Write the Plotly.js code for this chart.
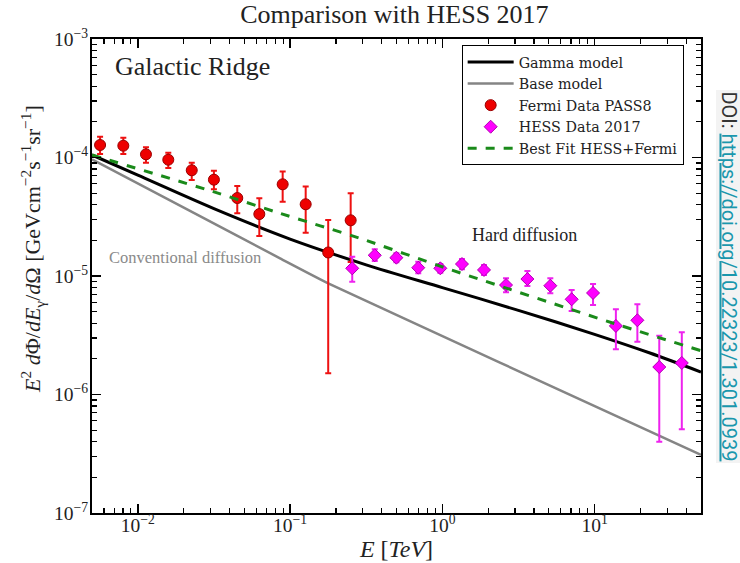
<!DOCTYPE html>
<html>
<head>
<meta charset="utf-8">
<script src="https://cdn.plot.ly/plotly-3.0.1.min.js"></script>
<style>html,body{margin:0;padding:0;background:#fff;}#chart{width:740px;height:563px;}</style>
</head>
<body>
<div id="chart"></div>
<script>
// Model curves (E in TeV, E^2 dPhi/dE/dOmega in GeV cm^-2 s^-1 sr^-1)
const gammaE = [0.005, 0.01, 0.0316, 0.1, 0.316, 1, 3.16, 10, 23.1, 50];
const gammaY = [1.05e-4, 7.09e-5, 3.70e-5, 2.05e-5, 1.243e-5, 7.98e-6, 5.13e-6, 3.22e-6, 2.24e-6, 1.548e-6];

const baseE = [0.005, 0.02314, 0.0859, 0.178, 2.39, 50];
const baseY = [9.66e-5, 3.42e-5, 1.41e-5, 8.68e-6, 1.86e-6, 3.09e-7];

const fitE = [0.005, 0.0313, 0.0859, 0.288, 1.068, 13.3, 50];
const fitY = [1.05e-4, 5.15e-5, 3.38e-5, 2.08e-5, 1.16e-5, 3.99e-6, 2.34e-6];

// Fermi PASS8 data
const fermiE = [0.00565, 0.00803, 0.01131, 0.01585, 0.0226, 0.0316, 0.045, 0.0628, 0.0894, 0.1266, 0.178, 0.25];
const fermiY = [1.275e-4, 1.258e-4, 1.064e-4, 9.58e-5, 7.80e-5, 6.50e-5, 4.55e-5, 3.33e-5, 5.94e-5, 4.03e-5, 1.579e-5, 2.95e-5];
const fermiHi = [1.498e-4, 1.469e-4, 1.219e-4, 1.098e-4, 9.03e-5, 7.74e-5, 5.75e-5, 4.53e-5, 7.62e-5, 5.68e-5, 2.97e-5, 4.99e-5];
const fermiLo = [1.072e-4, 1.072e-4, 9.04e-5, 8.15e-5, 6.45e-5, 5.39e-5, 3.38e-5, 2.18e-5, 4.23e-5, 2.32e-5, 1.51e-6, 1.31e-5];

// HESS 2017 data
const hessE = [0.256, 0.360, 0.499, 0.695, 0.970, 1.346, 1.878, 2.62, 3.62, 5.12, 7.07, 9.77, 13.8, 19.1, 26.6, 37.4];
const hessY = [1.161e-5, 1.496e-5, 1.427e-5, 1.175e-5, 1.161e-5, 1.262e-5, 1.125e-5, 8.39e-6, 9.43e-6, 8.28e-6, 6.36e-6, 7.19e-6, 3.79e-6, 4.23e-6, 1.706e-6, 1.845e-6];
const hessHi = [1.455e-5, 1.68e-5, 1.555e-5, 1.32e-5, 1.262e-5, 1.391e-5, 1.239e-5, 9.57e-6, 1.10e-5, 9.57e-6, 7.62e-6, 8.56e-6, 5.24e-6, 5.77e-6, 3.13e-6, 3.35e-6];
const hessLo = [8.95e-6, 1.34e-5, 1.306e-5, 1.054e-5, 1.067e-5, 1.139e-5, 1.019e-5, 7.28e-6, 8.24e-6, 7.14e-6, 5.07e-6, 5.69e-6, 2.41e-6, 2.79e-6, 4.0e-7, 5.08e-7];

const legendNames = ["Gamma model", "Base model", "Fermi Data PASS8", "HESS Data 2017", "Best Fit HESS+Fermi"];

// Axis tick labels
const xTickVals = [0.01, 0.1, 1, 10];
const xTickText = ["10<sup>−2</sup>", "10<sup>−1</sup>", "10<sup>0</sup>", "10<sup>1</sup>"];
const yTickVals = [1e-7, 1e-6, 1e-5, 1e-4, 1e-3];
const yTickText = ["10<sup>−7</sup>", "10<sup>−6</sup>", "10<sup>−5</sup>", "10<sup>−4</sup>", "10<sup>−3</sup>"];

const up = (v, h) => h.map((x, i) => x - v[i]);
const dn = (v, l) => l.map((x, i) => v[i] - x);

const serif = "Liberation Serif, Times New Roman, serif";

const traces = [
  {x: gammaE, y: gammaY, mode: "lines", name: legendNames[0], line: {color: "#000000", width: 3, shape: "spline", smoothing: 0.8}},
  {x: baseE, y: baseY, mode: "lines", name: legendNames[1], line: {color: "#858585", width: 2.5, shape: "spline", smoothing: 0.5}},
  {x: fermiE, y: fermiY, mode: "markers", name: legendNames[2],
   marker: {symbol: "circle", size: 11, color: "#ee0000", line: {color: "#990000", width: 1}},
   error_y: {type: "data", symmetric: false, array: up(fermiY, fermiHi), arrayminus: dn(fermiY, fermiLo), color: "#ee1111", thickness: 2, width: 3}},
  {x: hessE, y: hessY, mode: "markers", name: legendNames[3],
   marker: {symbol: "diamond", size: 10, color: "#ff00ff", line: {color: "#b000b0", width: 1}},
   error_y: {type: "data", symmetric: false, array: up(hessY, hessHi), arrayminus: dn(hessY, hessLo), color: "#ee22ee", thickness: 2, width: 3}},
  {x: fitE, y: fitY, mode: "lines", name: legendNames[4], line: {color: "#1a8a1a", width: 3, dash: "dash", shape: "spline", smoothing: 0.5}}
];

const axisCommon = {
  type: "log", showgrid: false, zeroline: false,
  showline: true, linecolor: "#000", linewidth: 2, mirror: "allticks",
  ticks: "inside", ticklen: 9, tickwidth: 1.5, tickcolor: "#000",
  tickmode: "array",
  tickfont: {family: serif, size: 19.5, color: "#222"},
  minor: {ticks: "inside", ticklen: 5, tickwidth: 1.2, tickcolor: "#000", tickmode: "linear", dtick: "D1", showgrid: false}
};

const layout = {
  width: 740, height: 563,
  margin: {l: 92, r: 39, t: 39, b: 50},
  paper_bgcolor: "#fff", plot_bgcolor: "#fff",
  showlegend: true,
  title: {text: "Comparison with HESS 2017", font: {family: serif, size: 26, color: "#222"}, x: 0.533, xanchor: "center", y: 0.976, yanchor: "middle"},
  xaxis: Object.assign({}, axisCommon, {
    range: [Math.log10(0.005), Math.log10(50)],
    tickvals: xTickVals, ticktext: xTickText,
    ticklabelstandoff: -6,
    title: {text: "<i>E</i> [<i>TeV</i>]", font: {family: serif, size: 24, color: "#222"}, standoff: 2}
  }),
  yaxis: Object.assign({}, axisCommon, {
    range: [-7, -3],
    tickvals: yTickVals, ticktext: yTickText,
    ticklabelstandoff: -2
  }),
  legend: {
    x: 0.607, y: 0.987, xanchor: "left", yanchor: "top",
    bgcolor: "#fff", bordercolor: "#000", borderwidth: 1,
    font: {family: "DejaVu Serif, serif", size: 14.3, color: "#222"},
    itemwidth: 46,
    tracegroupgap: 0
  },
  annotations: [
    {xref: "paper", yref: "paper", x: -0.0969, y: 0.557, xanchor: "center", yanchor: "middle", textangle: -90, showarrow: false,
     text: "<i>E</i><sup>2</sup> <i>d</i>Φ/<i>dE</i><sub>γ</sub>/<i>d</i>Ω [GeVcm<sup>−2</sup>s<sup>−1</sup>sr<sup>−1</sup>]",
     font: {family: serif, size: 22, color: "#222"}},
    {xref: "paper", yref: "paper", x: 0.1658, y: 0.943, xanchor: "center", yanchor: "middle", text: "Galactic Ridge", showarrow: false, font: {family: serif, size: 26, color: "#222"}},
    {xref: "paper", yref: "paper", x: 0.1527, y: 0.538, xanchor: "center", yanchor: "middle", text: "Conventional diffusion", showarrow: false, font: {family: serif, size: 16.5, color: "#8a8a8a"}},
    {xref: "paper", yref: "paper", x: 0.711, y: 0.5865, xanchor: "center", yanchor: "middle", text: "Hard diffusion", showarrow: false, font: {family: serif, size: 18, color: "#222"}},
    {xref: "paper", yref: "paper", x: 1.046, y: 0.499, xanchor: "center", yanchor: "middle", textangle: 90, showarrow: false,
     text: "DOI: <span style='color:#1a97ad'><u>https://doi.org/10.22323/1.301.0939</u></span>",
     font: {family: "Roboto, sans-serif", size: 20, color: "#333"}, bgcolor: "#f3f3f3", borderpad: 1}
  ]
};

Plotly.newPlot("chart", traces, layout, {staticPlot: true, displayModeBar: false});
</script>
</body>
</html>
